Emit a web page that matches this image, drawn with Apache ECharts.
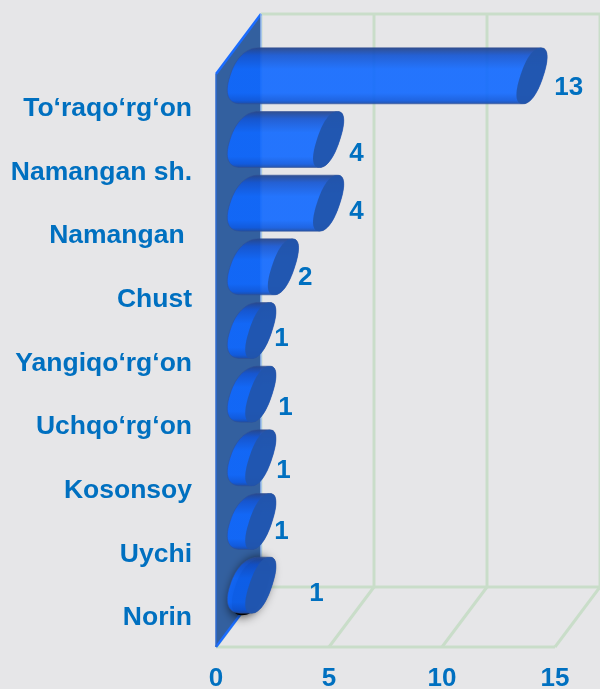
<!DOCTYPE html>
<html><head><meta charset="utf-8">
<style>html,body{margin:0;padding:0;background:#E6E6E8}#c{width:600px;height:689px}</style>
<script src="https://cdn.jsdelivr.net/npm/echarts@6/dist/echarts.min.js"></script></head>
<body><div id="c"></div>
<script>
const categories = ['To‘raqo‘rg‘on','Namangan sh.','Namangan ','Chust','Yangiqo‘rg‘on','Uchqo‘rg‘on','Kosonsoy','Uychi','Norin'];
const values = [13,4,4,2,1,1,1,1,1];
const axisTicks = [0,5,10,15];
const labelNudgeX = [35,26,26,20,19,23,21,19,54];
const labelNudgeY = [12,14,9,11,8,14,13,10,9];
const shadowedCategory = 'Norin';

const TEXT = '#0070C0', GRID = '#C9DDC9', FONT = '"Liberation Sans", Arial, sans-serif';
const DX = 45, DY = 60;           // depth of the 3D box
const BAR_DX = 24, BAR_DY = 30;   // bars sit mid-depth
const UX = 9, UY = 28, VX = 11.5, VX_LEFT = 20, P = 0.85;  // slanted, rounded ends

function sp(a) { return Math.sign(a) * Math.pow(Math.abs(a), P); }
function half(c, from, to, n, vx) {
  const pts = [];
  for (let i = 0; i <= n; i++) {
    const t = from + (to - from) * i / n;
    const a = sp(Math.cos(t)), b = sp(Math.sin(t));
    pts.push([c[0] + a * UX + b * vx, c[1] - a * UY]);
  }
  return pts;
}
function line(a, b, color, width) {
  return {type:'line', shape:{x1:a[0],y1:a[1],x2:b[0],y2:b[1]}, style:{stroke:color,lineWidth:width}};
}
const frame = (params, api) => {
  const g = params.coordSys, v = api.value(0), p = api.coord([v, 0]), bot = g.y + g.height;
  const x = p[0];
  const kids = [
    line([x, bot], [x + DX, bot - DY], GRID, 3),
    line([x + DX, bot - DY], [x + DX, g.y - DY], GRID, 3)
  ];
  if (params.dataIndex === 0) {
    const r = g.x + g.width;
    kids.push(line([g.x, bot], [r, bot], GRID, 3));
    kids.push(line([g.x + DX, bot - DY], [r + DX, bot - DY], GRID, 3));
    kids.push(line([g.x + DX, g.y - DY], [r + DX, g.y - DY], GRID, 3));
  }
  return {type:'group', children:kids};
};
const wall = (params) => {
  const g = params.coordSys, bot = g.y + g.height;
  return {type:'group', children:[
    {type:'polygon', shape:{points:[[g.x,g.y],[g.x+DX,g.y-DY],[g.x+DX,bot-DY],[g.x,bot]]}, style:{fill:'#33609F'}},
    line([g.x,g.y],[g.x+DX,g.y-DY],'#1A6CFF',2.5),
    line([g.x,bot],[g.x+DX,bot-DY],'#1A6CFF',2.5),
    line([g.x+DX,g.y-DY],[g.x+DX,bot-DY],'#9DBDF0',1.5),
    line([g.x,g.y],[g.x,bot],'#2F6BD0',1.5)
  ]};
};
const bars = (params, api) => {
  const i = params.dataIndex, v = api.value(0);
  const s = api.coord([0, i]), e = api.coord([v, i]);
  const c0 = [s[0] + BAR_DX + 10, s[1] - BAR_DY], c1 = [e[0] + BAR_DX - 2, e[1] - BAR_DY];
  const body = half(c0, 0, -Math.PI, 32, VX_LEFT).concat(half(c1, Math.PI, 0, 32, VX));
  const cap = half(c1, 0, 2 * Math.PI, 64, VX);
  const kids = [];
  if (categories[i] === shadowedCategory) {
    const blob = half([c0[0]+1,c0[1]+2],0,2*Math.PI,64,VX_LEFT-4);
    kids.push({type:'polygon', shape:{points:blob},
      style:{fill:'#000', shadowBlur:12, shadowColor:'#000', shadowOffsetX:-1}});
  }
  kids.push({type:'polygon', shape:{points:body}, style:{
    stroke:'rgba(50,80,150,0.55)', lineWidth:1,
    fill:{type:'linear',x:0,y:0,x2:0,y2:1,colorStops:[
      {offset:0,color:'rgba(40,70,135,0.95)'},
      {offset:0.14,color:'rgba(20,85,210,0.92)'},
      {offset:0.38,color:'rgba(15,104,255,0.9)'},
      {offset:0.8,color:'rgba(15,104,255,0.9)'},
      {offset:0.93,color:'rgba(15,90,225,0.92)'},
      {offset:1,color:'rgba(30,75,160,0.95)'}]}}});
  kids.push({type:'polygon', shape:{points:cap}, style:{fill:'rgba(34,85,170,0.92)'}});
  kids.push({type:'text', style:{text:String(v), x:e[0]+BAR_DX+labelNudgeX[i], y:e[1]-BAR_DY+labelNudgeY[i],
    align:'center', verticalAlign:'middle', fill:TEXT, font:'bold 26px '+FONT}});
  return {type:'group', children:kids};
};

const chart = echarts.init(document.getElementById('c'));
chart.setOption({
  animation:false,
  backgroundColor:'#E6E6E8',
  grid:{left:216,right:45,top:74,bottom:42,outerBoundsMode:'none',containLabel:false},
  xAxis:{type:'value',min:axisTicks[0],max:axisTicks[axisTicks.length-1],interval:5,
    axisLine:{show:false},axisTick:{show:false},splitLine:{show:false},
    axisLabel:{color:TEXT,fontWeight:'bold',fontSize:26,fontFamily:'Liberation Sans',margin:19}},
  yAxis:{type:'category',inverse:true,data:categories,
    axisLine:{show:false},axisTick:{show:false},splitLine:{show:false},
    axisLabel:{color:TEXT,fontWeight:'bold',fontSize:26.5,fontFamily:'Liberation Sans',margin:24,interval:0,verticalAlign:'top',lineHeight:6}},
  series:[
    {type:'custom',coordinateSystem:'cartesian2d',clip:false,silent:true,z:1,encode:{x:0},data:axisTicks.map(t=>[t]),renderItem:frame},
    {type:'custom',coordinateSystem:'cartesian2d',clip:false,silent:true,z:2,encode:{x:0},data:[[0]],renderItem:wall},
    {type:'custom',coordinateSystem:'cartesian2d',clip:false,silent:true,z:3,encode:{x:0},data:values.map(v=>[v]),renderItem:bars}
  ]
});
</script></body></html>
